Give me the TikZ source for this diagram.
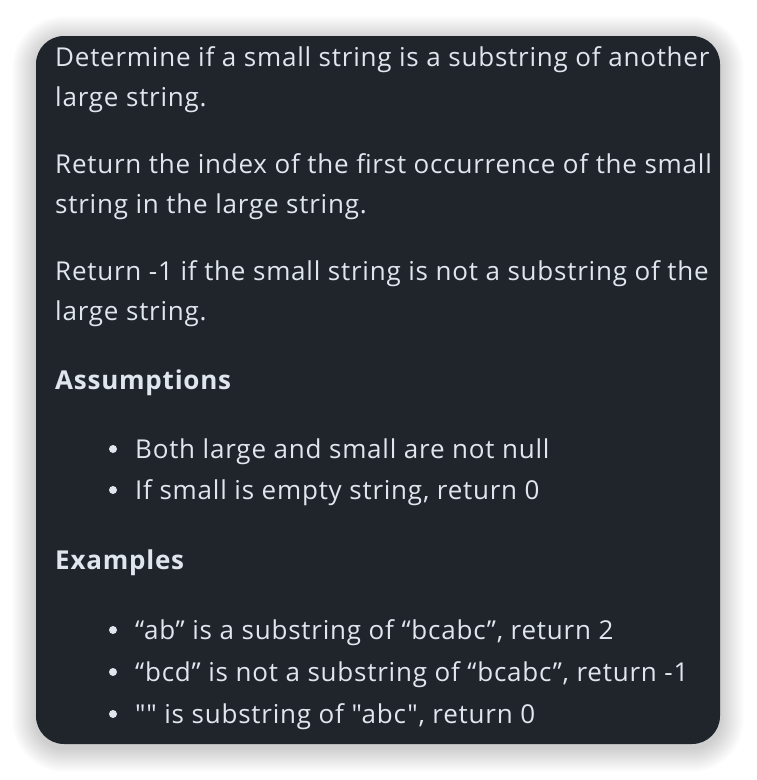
\documentclass[tikz,border=0pt]{standalone}
\usepackage{fontspec}
\setmainfont{Open Sans}[Ligatures=TeXOff, LetterSpace=3]
\definecolor{cardbg}{HTML}{20252C}
\definecolor{cardfg}{HTML}{E0E6ED}
\tikzset{
  txt/.style={anchor=base west, text=cardfg, inner sep=0pt, font=\fontsize{26}{30}\selectfont},
  hd/.style={txt, font=\fontsize{26}{30}\selectfont\bfseries},
  bul/.style={circle, fill=cardfg, inner sep=0pt, minimum size=8pt},
}
\begin{document}
\begin{tikzpicture}[x=1pt,y=-1pt]
\useasboundingbox (0,0) rectangle (756,780);
\fill[white] (0,0) rectangle (756,780);
\foreach \i in {1,...,24}{
  \fill[black, opacity=0.006, rounded corners=28+\i] (36-\i,36-\i+4) rectangle (720+\i,744+\i+4);
}
\fill[cardbg, rounded corners=28] (36,36) rectangle (720,744);
\node[txt] (l1) at (55,66) {Determine if a small string is a substring of another};
\node[txt] (l2) at (55,106) {large string.};
\node[txt] (l3) at (55,173) {Return the index of the first occurrence of the small};
\node[txt] (l4) at (55,213) {string in the large string.};
\node[txt] (l5) at (55,280) {Return -1 if the small string is not a substring of the};
\node[txt] (l6) at (55,320) {large string.};
\node[hd] (h1) at (55,389) {Assumptions};
\node[bul] (b1) at (113,449) {};
\node[txt] (a1) at (135,458) {Both large and small are not null};
\node[bul] (b2) at (113,490) {};
\node[txt] (a2) at (135,499) {If small is empty string, return 0};
\node[hd] (h2) at (55,569) {Examples};
\node[bul] (b3) at (113,630) {};
\node[txt] (e1) at (135,639) {“ab” is a substring of “bcabc”, return 2};
\node[bul] (b4) at (113,672) {};
\node[txt] (e2) at (135,681) {“bcd” is not a substring of “bcabc”, return -1};
\node[bul] (b5) at (113,714) {};
\node[txt] (e3) at (135,723) {"" is substring of "abc", return 0};
\end{tikzpicture}
\end{document}
